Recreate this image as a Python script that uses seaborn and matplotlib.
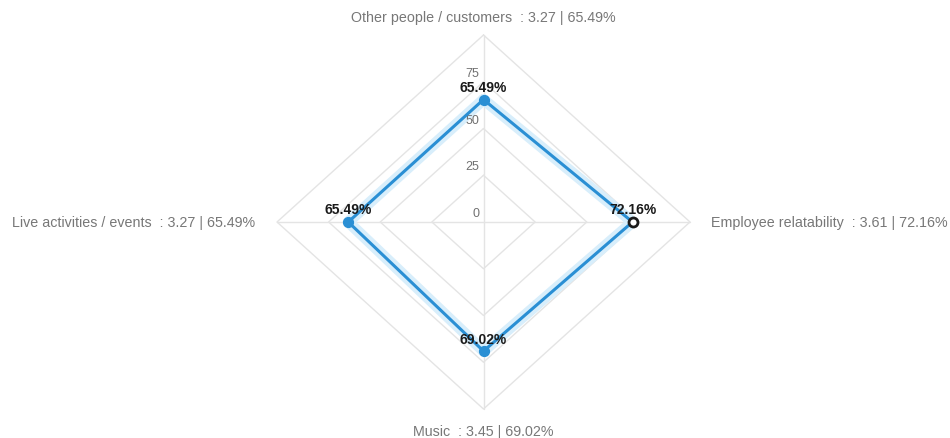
import numpy as np
import pandas as pd
import matplotlib
matplotlib.use("Agg")
import matplotlib.pyplot as plt
import seaborn as sns

# Radar data: four factors, clockwise from the top
categories = ["Other people / customers", "Employee relatability", "Music", "Live activities / events"]
scores = [3.27, 3.61, 3.45, 3.27]
percents = [65.49, 72.16, 69.02, 65.49]
grid_levels = [25, 50, 75, 100]
tick_levels = [0, 25, 50, 75]

sns.set_theme(style="white")
plt.rcParams["font.family"] = ["Liberation Sans", "DejaVu Sans"]

# Angles: top, right, bottom, left
angles = np.pi / 2 - np.arange(len(categories)) * 2 * np.pi / len(categories)

df = pd.DataFrame({
    "category": categories,
    "score": scores,
    "percent": percents,
    "x": np.array(percents) * np.cos(angles),
    "y": np.array(percents) * np.sin(angles),
})
closed = pd.concat([df, df.iloc[[0]]], ignore_index=True)

fig = plt.figure(figsize=(9.5, 4.39), dpi=100)
ax = fig.add_axes([277 / 950, (439 - 410) / 439, 413 / 950, 374 / 439])
ax.set_xlim(-100, 100)
ax.set_ylim(-100, 100)
ax.axis("off")

grid_color = "#e4e4e4"
# Diamond grid rings
for lvl in grid_levels:
    gx = np.append(lvl * np.cos(angles), lvl * np.cos(angles[0]))
    gy = np.append(lvl * np.sin(angles), lvl * np.sin(angles[0]))
    ax.plot(gx, gy, color=grid_color, lw=1, zorder=1, clip_on=False)
# Spokes
for a in angles:
    ax.plot([0, 100 * np.cos(a)], [0, 100 * np.sin(a)], color=grid_color, lw=1, zorder=1, clip_on=False)

# Radial tick labels along the upper spoke
for t in tick_levels:
    ax.annotate(str(t), xy=(0, t), xytext=(-3, 2), textcoords="offset points",
                ha="right", va="bottom", fontsize=9, color="#707070")

# Soft halo under the series line
ax.plot(closed["x"], closed["y"], color="#d8eefb", lw=8, solid_capstyle="round",
        solid_joinstyle="round", zorder=2)
sns.lineplot(data=closed, x="x", y="y", sort=False, estimator=None, ax=ax,
             color="#2a8fd4", lw=2.2, zorder=3, legend=False)

# Markers: the Employee relatability point is shown highlighted
highlight = df["category"] == "Employee relatability"
sns.scatterplot(data=df[~highlight], x="x", y="y", ax=ax, s=50, color="#2a8fd4",
                edgecolor="#2a8fd4", linewidth=1, zorder=4, legend=False)
sns.scatterplot(data=df[highlight], x="x", y="y", ax=ax, s=42, color="white",
                edgecolor="#1a1a1a", linewidth=2, zorder=5, legend=False)
ax.set_xlabel("")
ax.set_ylabel("")

# Value labels above each point
for _, row in df.iterrows():
    ax.annotate(f"{row['percent']:.2f}%", xy=(row["x"], row["y"]), xytext=(0, 4),
                textcoords="offset points", ha="center", va="bottom",
                fontsize=10, fontweight="bold", color="#1a1a1a", zorder=6)

# Category labels outside the outer ring
label_pos = [
    (0, 100, 0, 8, "center", "bottom"),
    (100, 0, 15, 0, "left", "center"),
    (0, -100, 0, -11, "center", "top"),
    (-100, 0, -16, 0, "right", "center"),
]
for (cat, sc, pc), (lx, ly, dx, dy, ha, va) in zip(zip(categories, scores, percents), label_pos):
    ax.annotate(f"{cat}  : {sc:.2f} | {pc:.2f}%", xy=(lx, ly), xytext=(dx, dy),
                textcoords="offset points", ha=ha, va=va, fontsize=10.3, color="#777777",
                annotation_clip=False)

fig.savefig("out.png", dpi=100, facecolor="white")
